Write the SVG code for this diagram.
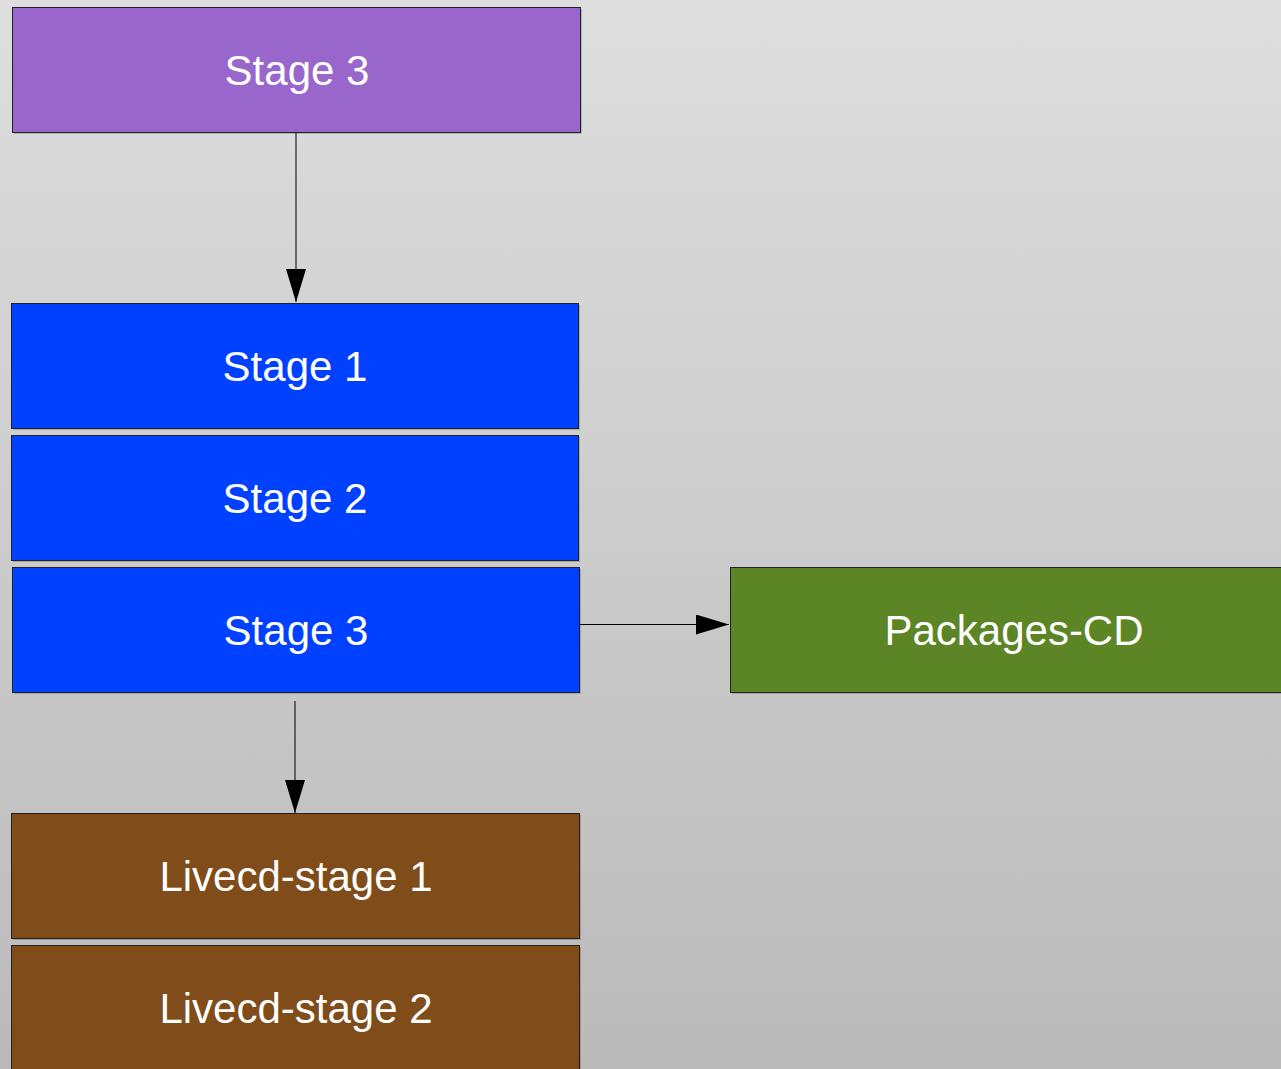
<svg xmlns="http://www.w3.org/2000/svg" width="1281" height="1069" viewBox="0 0 1281 1069">
<defs>
<linearGradient id="bg" x1="0" y1="0" x2="0" y2="1">
<stop offset="0" stop-color="#dedede"/>
<stop offset="1" stop-color="#bababa"/>
</linearGradient>
<marker id="ah" viewBox="0 0 33 20" refX="33" refY="10" markerWidth="33" markerHeight="20" markerUnits="userSpaceOnUse" orient="auto">
<path d="M0,0 L33,10 L0,20 Z" fill="#000"/>
</marker>
<style>
.box{stroke:#222;stroke-width:1}
.sh{fill:#000;opacity:0.18}
.lbl{font-family:"Liberation Sans",Arial,sans-serif;font-size:42px;fill:#fff;text-anchor:middle}
.edge{stroke:#000;stroke-width:1;fill:none}
</style>
</defs>
<rect x="0" y="0" width="1281" height="1069" fill="url(#bg)"/>
<g id="connectors">
<line class="edge" x1="296" y1="133" x2="296" y2="302" marker-end="url(#ah)"/>
<line class="edge" x1="580" y1="624.5" x2="729" y2="624.5" marker-end="url(#ah)"/>
<line class="edge" x1="295" y1="701" x2="295" y2="813" marker-end="url(#ah)"/>
</g>
<g id="stage3-top">
<rect class="sh" x="14" y="9" width="568" height="125"/>
<rect class="box" x="12.5" y="7.5" width="568" height="125" fill="#9966cc"/>
<text class="lbl" x="297" y="85">Stage 3</text>
</g>
<g id="stage1">
<rect class="sh" x="13" y="305" width="567" height="125"/>
<rect class="box" x="11.5" y="303.5" width="567" height="125" fill="#0040ff"/>
<text class="lbl" x="295" y="381">Stage 1</text>
</g>
<g id="stage2">
<rect class="sh" x="13" y="437" width="567" height="125"/>
<rect class="box" x="11.5" y="435.5" width="567" height="125" fill="#0040ff"/>
<text class="lbl" x="295" y="513">Stage 2</text>
</g>
<g id="stage3">
<rect class="sh" x="14" y="569" width="567" height="125"/>
<rect class="box" x="12.5" y="567.5" width="567" height="125" fill="#0040ff"/>
<text class="lbl" x="296" y="645">Stage 3</text>
</g>
<g id="packages-cd">
<rect class="sh" x="732" y="569" width="560" height="125"/>
<rect class="box" x="730.5" y="567.5" width="560" height="125" fill="#5c8526"/>
<text class="lbl" x="1014" y="645">Packages-CD</text>
</g>
<g id="livecd-stage1">
<rect class="sh" x="13" y="815" width="568" height="125"/>
<rect class="box" x="11.5" y="813.5" width="568" height="125" fill="#7f4c1a"/>
<text class="lbl" x="296" y="891">Livecd-stage 1</text>
</g>
<g id="livecd-stage2">
<rect class="sh" x="13" y="947" width="568" height="125"/>
<rect class="box" x="11.5" y="945.5" width="568" height="125" fill="#7f4c1a"/>
<text class="lbl" x="296" y="1023">Livecd-stage 2</text>
</g>
</svg>
